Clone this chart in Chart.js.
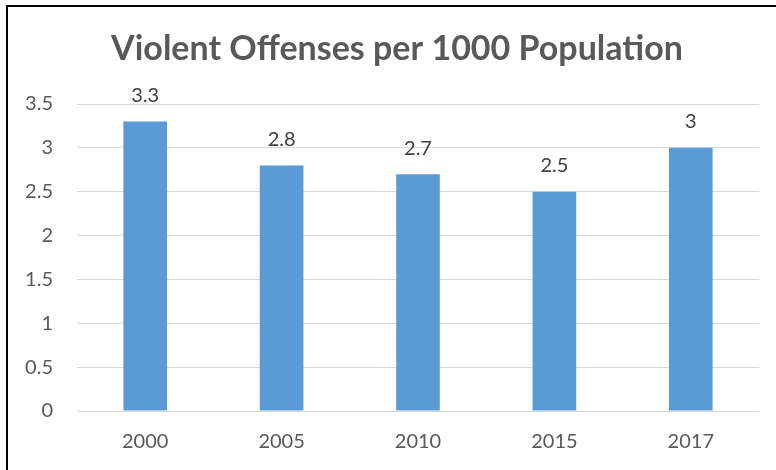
<!DOCTYPE html>
<html>
<head>
<meta charset="utf-8">
<script src="https://cdn.jsdelivr.net/npm/chart.js@4/dist/chart.umd.min.js"></script>
<style>
  html, body { margin: 0; padding: 0; background: #ffffff; }
  #wrap { position: relative; width: 776px; height: 470px; overflow: hidden; }
  #chart { position: absolute; left: 0; top: 0; }
  #frameTop { position: absolute; left: 6px; top: 5px; width: 770px; height: 2px; background: #000; }
  #frameLeft { position: absolute; left: 6px; top: 5px; width: 2px; height: 465px; background: #000; }
</style>
</head>
<body>
<div id="wrap">
  <canvas id="chart" width="776" height="470"></canvas>
  <div id="frameTop"></div>
  <div id="frameLeft"></div>
</div>
<script>
const chartTitle = 'Violent Offenses per 1000 Population';
const categories = ['2000', '2005', '2010', '2015', '2017'];
const values = [3.3, 2.8, 2.7, 2.5, 3];
const yTickValues = [0, 0.5, 1, 1.5, 2, 2.5, 3, 3.5];

const FONT = 'Lato, "Open Sans", "Liberation Sans", sans-serif';

const titlePlugin = {
  id: 'chartTitleText',
  afterDraw(chart) {
    const ctx = chart.ctx;
    ctx.save();
    ctx.font = 'bold 34px ' + FONT;
    ctx.fillStyle = '#595959';
    ctx.textAlign = 'center';
    ctx.textBaseline = 'alphabetic';
    ctx.fillText(chartTitle, chart.width / 2 + 9, 60);
    ctx.restore();
  }
};

const dataLabels = {
  id: 'dataLabels',
  afterDatasetsDraw(chart) {
    const ctx = chart.ctx;
    ctx.save();
    ctx.font = '20px ' + FONT;
    ctx.fillStyle = '#404040';
    ctx.textAlign = 'center';
    ctx.textBaseline = 'middle';
    chart.data.datasets.forEach((ds, di) => {
      const meta = chart.getDatasetMeta(di);
      meta.data.forEach((bar, i) => {
        ctx.fillText(String(ds.data[i]), bar.x, bar.y - 26);
      });
    });
    ctx.restore();
  }
};

new Chart(document.getElementById('chart'), {
  type: 'bar',
  data: {
    labels: categories,
    datasets: [{
      data: values,
      backgroundColor: '#5B9BD5',
      borderWidth: 0,
      barPercentage: 0.32,
      categoryPercentage: 1
    }]
  },
  options: {
    responsive: false,
    animation: false,
    layout: { padding: { left: 0, right: 17, top: 104, bottom: 0 } },
    plugins: {
      legend: { display: false },
      tooltip: { enabled: false },
      title: { display: false }
    },
    scales: {
      x: {
        afterFit(scale) { scale.height = 59; },
        grid: { display: false, drawTicks: false },
        border: { display: false },
        ticks: { color: '#595959', font: { family: FONT, size: 20 }, padding: 19 }
      },
      y: {
        min: 0,
        max: 3.5,
        afterBuildTicks(scale) { scale.ticks = yTickValues.map(v => ({ value: v })); },
        afterFit(scale) { scale.width = 77; },
        grid: { color: '#d9d9d9', lineWidth: 1, drawTicks: false },
        border: { display: false },
        ticks: {
          color: '#595959',
          font: { family: FONT, size: 20 },
          padding: 24,
          callback: (v) => String(v)
        }
      }
    }
  },
  plugins: [dataLabels, titlePlugin]
});
</script>
</body>
</html>
